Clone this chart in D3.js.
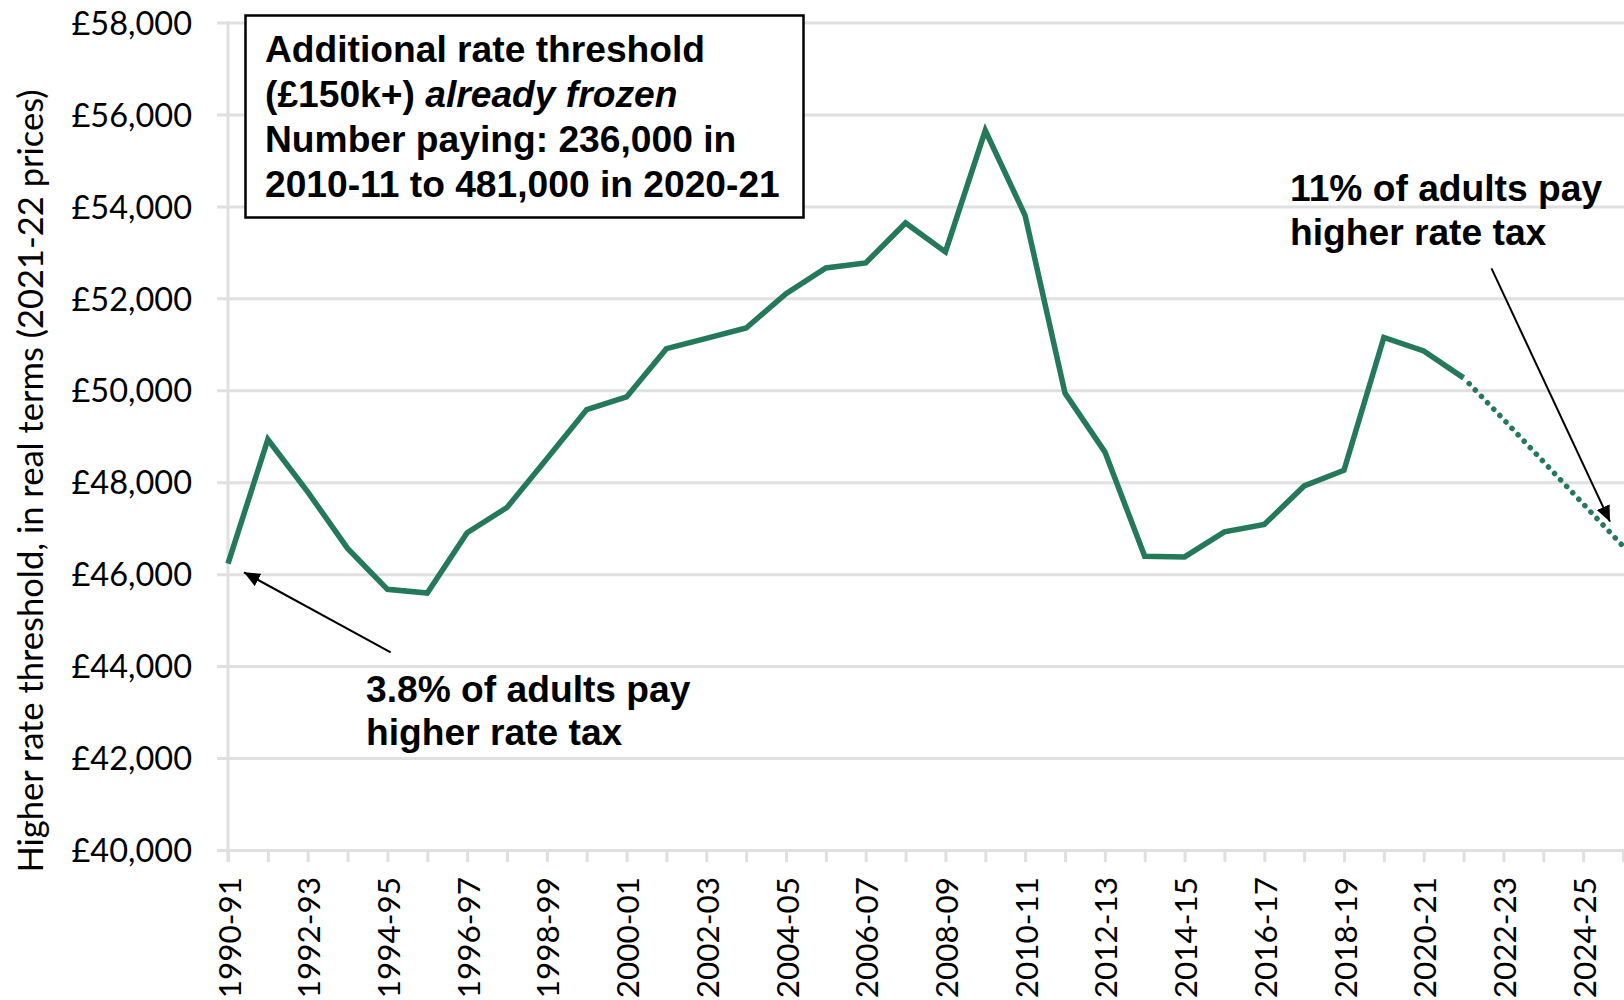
<!DOCTYPE html>
<html>
<head>
<meta charset="utf-8">
<script src="https://cdn.jsdelivr.net/npm/d3@7"></script>
<style>
  html, body { margin: 0; padding: 0; background: #fff; }
  svg { display: block; }
</style>
</head>
<body>
<svg id="chart" width="1624" height="1000"></svg>
<script>
// Tax years on the horizontal axis
const categories = [
  "1990-91","1991-92","1992-93","1993-94","1994-95","1995-96","1996-97","1997-98",
  "1998-99","1999-00","2000-01","2001-02","2002-03","2003-04","2004-05","2005-06",
  "2006-07","2007-08","2008-09","2009-10","2010-11","2011-12","2012-13","2013-14",
  "2014-15","2015-16","2016-17","2017-18","2018-19","2019-20","2020-21","2021-22",
  "2022-23","2023-24","2024-25","2025-26"
];

// Higher rate threshold in 2021-22 prices, outturn years
const actualYears = categories.slice(0, 32);
const actualValues = [
  46230, 48930, 47790, 46560, 45670, 45590, 46900, 47450,
  48510, 49580, 49855, 50905, 51130, 51355, 52100, 52660,
  52770, 53640, 53010, 55650, 53800, 49940, 48660, 46390,
  46375, 46920, 47080, 47920, 48260, 51150, 50855, 50270
];

// Frozen threshold, projected years (starts from the last outturn year)
const projectedYears = ["2021-22", "2022-23", "2023-24", "2024-25", "2025-26"];
const projectedValues = [50270, 49370, 48450, 47530, 46610];

// Axis ticks
const yTicks = [40000, 42000, 44000, 46000, 48000, 50000, 52000, 54000, 56000, 58000];
const xLabelled = ["1990-91","1992-93","1994-95","1996-97","1998-99","2000-01","2002-03",
  "2004-05","2006-07","2008-09","2010-11","2012-13","2014-15","2016-17","2018-19",
  "2020-21","2022-23","2024-25"];

const W = 1624, H = 1000;
const svg = d3.select("#chart");
const GREEN = "#23795a";
const GRID = "#e0e0e0";
const TICK_FONT = "Lato, 'Open Sans', sans-serif";
const NOTE_FONT = "'Liberation Sans', Arial, sans-serif";

const x = d3.scalePoint().domain(categories).range([228, 1623]);
const y = d3.scaleLinear().domain([40000, 58000]).range([850, 22.5]);

// Horizontal gridlines with value labels
const yAxis = d3.axisLeft(y)
  .tickValues(yTicks)
  .tickSizeInner(-(W - 217))
  .tickSizeOuter(0)
  .tickPadding(25)
  .tickFormat(d => "£" + d3.format(",")(d));

const gy = svg.append("g")
  .attr("transform", "translate(217,0)")
  .call(yAxis);
gy.select(".domain").remove();
gy.selectAll(".tick line").attr("stroke", GRID).attr("stroke-width", 3);
gy.selectAll(".tick text")
  .attr("fill", "#000")
  .style("font-family", TICK_FONT)
  .style("font-size", "32.5px")
  .attr("dy", "0.36em");

// Vertical axis line
svg.append("line")
  .attr("x1", x(categories[0])).attr("x2", x(categories[0]))
  .attr("y1", y(58000) - 1.5).attr("y2", y(40000) + 12)
  .attr("stroke", GRID).attr("stroke-width", 3);

// Category axis: a tick every year, labels every second year
const xAxis = d3.axisBottom(x)
  .tickSizeInner(12)
  .tickSizeOuter(0)
  .tickPadding(0)
  .tickFormat(d => xLabelled.includes(d) ? d : "");

const gx = svg.append("g")
  .attr("transform", `translate(0,${y(40000)})`)
  .call(xAxis);
gx.select(".domain").remove();
gx.selectAll(".tick line").attr("stroke", GRID).attr("stroke-width", 3);
gx.selectAll(".tick text")
  .attr("fill", "#000")
  .style("font-family", TICK_FONT)
  .style("font-size", "31.5px")
  .attr("text-anchor", "end")
  .attr("dominant-baseline", "central")
  .attr("dy", null)
  .attr("y", 0)
  .attr("transform", "translate(0,27) rotate(-90)");

// Axis title
svg.append("text")
  .attr("transform", "translate(29,481) rotate(-90)")
  .attr("text-anchor", "middle")
  .attr("dominant-baseline", "central")
  .style("font-family", TICK_FONT)
  .style("font-size", "34.5px")
  .attr("fill", "#000")
  .text("Higher rate threshold, in real terms (2021-22 prices)");

// Threshold series
const line = d3.line().x(d => x(d[0])).y(d => y(d[1]));

svg.append("path")
  .datum(d3.zip(actualYears, actualValues))
  .attr("d", line)
  .attr("fill", "none")
  .attr("stroke", GREEN)
  .attr("stroke-width", 5.5)
  .attr("stroke-linejoin", "miter");

svg.append("path")
  .datum(d3.zip(projectedYears, projectedValues))
  .attr("d", line)
  .attr("fill", "none")
  .attr("stroke", GREEN)
  .attr("stroke-width", 5.5)
  .attr("stroke-linecap", "round")
  .attr("stroke-dasharray", "0.1 8.75")
  .attr("stroke-dashoffset", -8);

// Arrowhead marker
const defs = svg.append("defs");
defs.append("marker")
  .attr("id", "arrow")
  .attr("markerUnits", "userSpaceOnUse")
  .attr("viewBox", "0 0 16 14")
  .attr("markerWidth", 16).attr("markerHeight", 14)
  .attr("refX", 16).attr("refY", 7)
  .attr("orient", "auto")
  .append("path")
  .attr("d", "M0,0 L16,7 L0,14 Z")
  .attr("fill", "#000");

// Annotation: start of period
svg.append("line")
  .attr("x1", 390.7).attr("y1", 652.3)
  .attr("x2", 244).attr("y2", 572.3)
  .attr("stroke", "#000").attr("stroke-width", 2)
  .attr("marker-end", "url(#arrow)");

const note1 = svg.append("text")
  .style("font-family", NOTE_FONT)
  .style("font-size", "37.2px")
  .style("font-weight", "bold")
  .attr("fill", "#000");
note1.append("tspan").attr("x", 366).attr("y", 702).text("3.8% of adults pay");
note1.append("tspan").attr("x", 366).attr("y", 745).text("higher rate tax");

// Annotation: end of period
svg.append("line")
  .attr("x1", 1491.5).attr("y1", 268.3)
  .attr("x2", 1610).attr("y2", 521.7)
  .attr("stroke", "#000").attr("stroke-width", 2)
  .attr("marker-end", "url(#arrow)");

const note2 = svg.append("text")
  .style("font-family", NOTE_FONT)
  .style("font-size", "37.2px")
  .style("font-weight", "bold")
  .attr("fill", "#000");
note2.append("tspan").attr("x", 1290).attr("y", 201).text("11% of adults pay");
note2.append("tspan").attr("x", 1290).attr("y", 245).text("higher rate tax");

// Boxed note on the additional rate
svg.append("rect")
  .attr("x", 245.5).attr("y", 15.5)
  .attr("width", 558).attr("height", 202)
  .attr("fill", "#fff")
  .attr("stroke", "#000")
  .attr("stroke-width", 2.5);

const box = svg.append("text")
  .style("font-family", NOTE_FONT)
  .style("font-size", "37.2px")
  .style("font-weight", "bold")
  .attr("fill", "#000");
box.append("tspan").attr("x", 265).attr("y", 61.7).text("Additional rate threshold");
const l2 = box.append("tspan").attr("x", 265).attr("y", 106.7);
l2.append("tspan").text("(£150k+) ");
l2.append("tspan").style("font-style", "italic").text("already frozen");
box.append("tspan").attr("x", 265).attr("y", 151.7).text("Number paying: 236,000 in");
box.append("tspan").attr("x", 265).attr("y", 196.7).text("2010-11 to 481,000 in 2020-21");
</script>
</body>
</html>
